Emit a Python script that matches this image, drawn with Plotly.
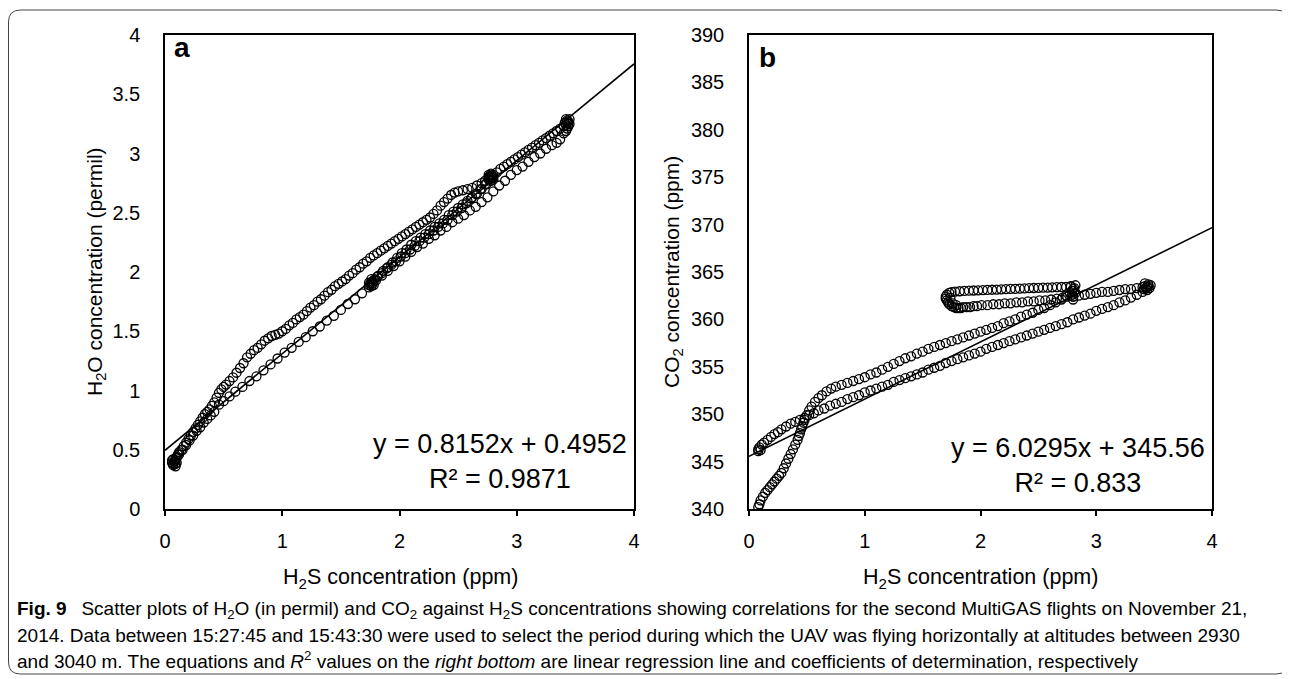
import plotly.graph_objects as go

# The page body adds an 8 px margin, so the figure is drawn 8 px smaller and
# every layout position below is given in screen pixels and shifted by 8.
OFF = 8
W, H = 1290 - OFF, 679 - OFF

# ---------------- Panel a: H2S (ppm) vs H2O (permil), in flight order ----------------
a_start = [(0.07, 0.37), (0.06, 0.39), (0.09, 0.36), (0.08, 0.40), (0.10, 0.39), (0.07, 0.42),
           (0.09, 0.41), (0.09, 0.43), (0.10, 0.44), (0.11, 0.46), (0.12, 0.48), (0.14, 0.50),
           (0.16, 0.53), (0.18, 0.56), (0.20, 0.59), (0.22, 0.62), (0.24, 0.65), (0.26, 0.68),
           (0.28, 0.71), (0.30, 0.74), (0.32, 0.77), (0.34, 0.80), (0.36, 0.82), (0.38, 0.84),
           (0.40, 0.87), (0.42, 0.90), (0.44, 0.94), (0.46, 0.98), (0.48, 1.01), (0.50, 1.03)]
a_upper = [(0.52, 1.05), (0.55, 1.08), (0.58, 1.11), (0.61, 1.15), (0.64, 1.19), (0.67, 1.23),
           (0.70, 1.28), (0.73, 1.31), (0.76, 1.34), (0.79, 1.36), (0.82, 1.39), (0.85, 1.42),
           (0.88, 1.44), (0.91, 1.46), (0.94, 1.47), (0.97, 1.48), (1.00, 1.50), (1.03, 1.52),
           (1.06, 1.55), (1.09, 1.57), (1.12, 1.60), (1.15, 1.62), (1.18, 1.64), (1.21, 1.67),
           (1.24, 1.70), (1.27, 1.72), (1.30, 1.75), (1.33, 1.77), (1.36, 1.80), (1.39, 1.83),
           (1.42, 1.85), (1.45, 1.88), (1.48, 1.90), (1.51, 1.92), (1.54, 1.94), (1.57, 1.97),
           (1.60, 1.99), (1.63, 2.02), (1.66, 2.04), (1.69, 2.07), (1.72, 2.09), (1.75, 2.12),
           (1.78, 2.14), (1.81, 2.16), (1.84, 2.18), (1.87, 2.20), (1.90, 2.22), (1.93, 2.24),
           (1.96, 2.26), (1.99, 2.28), (2.02, 2.30), (2.05, 2.32), (2.08, 2.34), (2.11, 2.36),
           (2.14, 2.38), (2.17, 2.40), (2.20, 2.42), (2.23, 2.44), (2.26, 2.46), (2.29, 2.49),
           (2.32, 2.52), (2.35, 2.56), (2.38, 2.59), (2.41, 2.62), (2.44, 2.65), (2.47, 2.67),
           (2.50, 2.68), (2.54, 2.69), (2.58, 2.70), (2.62, 2.71), (2.66, 2.73), (2.70, 2.75),
           (2.73, 2.77), (2.76, 2.79)]
a_turn1 = [(2.76, 2.80), (2.80, 2.80), (2.78, 2.77), (2.78, 2.83), (2.76, 2.78), (2.80, 2.82),
           (2.76, 2.82), (2.80, 2.78), (2.78, 2.80), (2.79, 2.81), (2.77, 2.81), (2.79, 2.79)]
a_back = [(2.74, 2.74), (2.70, 2.70), (2.66, 2.66), (2.62, 2.63), (2.58, 2.60), (2.54, 2.57),
          (2.50, 2.54), (2.46, 2.51), (2.42, 2.48), (2.38, 2.44), (2.34, 2.41), (2.30, 2.38),
          (2.26, 2.35), (2.22, 2.32), (2.18, 2.29), (2.14, 2.26), (2.10, 2.23), (2.06, 2.19),
          (2.02, 2.16), (1.98, 2.12), (1.94, 2.08), (1.90, 2.04), (1.86, 2.01), (1.82, 1.97),
          (1.79, 1.94)]
a_turn2 = [(1.77, 1.92), (1.74, 1.91), (1.78, 1.89), (1.76, 1.88), (1.76, 1.94), (1.74, 1.89),
           (1.78, 1.93), (1.76, 1.91), (1.75, 1.90), (1.77, 1.90)]
a_forth = [(1.81, 1.96), (1.85, 1.99), (1.89, 2.03), (1.93, 2.06), (1.97, 2.09), (2.01, 2.13),
           (2.05, 2.16), (2.09, 2.19), (2.13, 2.22), (2.17, 2.26), (2.21, 2.29), (2.25, 2.32),
           (2.29, 2.35), (2.33, 2.38), (2.37, 2.41), (2.41, 2.44), (2.45, 2.48), (2.49, 2.51),
           (2.53, 2.54), (2.57, 2.58), (2.61, 2.62), (2.65, 2.66), (2.69, 2.70), (2.73, 2.74)]
a_top = [(2.83, 2.84), (2.86, 2.87), (2.89, 2.89), (2.92, 2.91), (2.95, 2.93), (2.98, 2.95),
         (3.01, 2.97), (3.04, 2.99), (3.07, 3.01), (3.10, 3.03), (3.13, 3.05), (3.16, 3.07),
         (3.19, 3.09), (3.22, 3.11), (3.25, 3.13), (3.28, 3.15), (3.31, 3.17), (3.34, 3.19),
         (3.37, 3.21), (3.40, 3.23)]
a_turn3 = [(3.42, 3.24), (3.44, 3.27), (3.42, 3.29), (3.45, 3.25), (3.43, 3.21), (3.45, 3.29),
           (3.41, 3.26), (3.44, 3.23), (3.43, 3.26), (3.42, 3.19), (3.44, 3.25), (3.43, 3.28)]
a_lower = [(3.40, 3.17), (3.37, 3.12), (3.34, 3.09), (3.30, 3.07), (3.25, 3.04), (3.20, 3.00),
           (3.15, 2.97), (3.10, 2.93), (3.05, 2.89), (3.00, 2.86), (2.95, 2.82), (2.90, 2.77),
           (2.85, 2.73), (2.80, 2.68), (2.75, 2.63), (2.70, 2.59), (2.65, 2.55), (2.60, 2.52),
           (2.55, 2.48), (2.50, 2.45), (2.45, 2.42), (2.40, 2.38), (2.35, 2.35), (2.30, 2.31),
           (2.25, 2.28), (2.20, 2.24), (2.15, 2.21), (2.10, 2.17), (2.05, 2.13), (2.00, 2.09),
           (1.95, 2.05), (1.90, 2.01), (1.85, 1.97), (1.80, 1.93), (1.74, 1.87), (1.68, 1.82),
           (1.62, 1.77), (1.56, 1.73), (1.50, 1.68), (1.44, 1.63), (1.38, 1.59), (1.32, 1.54),
           (1.26, 1.50), (1.20, 1.45), (1.14, 1.41), (1.08, 1.36), (1.02, 1.32), (0.96, 1.27),
           (0.90, 1.22), (0.84, 1.17), (0.78, 1.12), (0.72, 1.08), (0.66, 1.03), (0.60, 0.99),
           (0.55, 0.95), (0.50, 0.91), (0.46, 0.88)]
a_end = [(0.42, 0.82), (0.39, 0.79), (0.36, 0.76), (0.33, 0.73), (0.30, 0.69), (0.27, 0.66),
         (0.24, 0.62), (0.21, 0.58), (0.18, 0.54), (0.15, 0.50), (0.12, 0.46), (0.10, 0.43),
         (0.08, 0.40), (0.07, 0.38), (0.09, 0.38), (0.06, 0.41)]
a_slope, a_intercept, a_r2 = 0.8152, 0.4952, 0.9871

# ---------------- Panel b: H2S (ppm) vs CO2 (ppm), in flight order ----------------
b_start = [(0.08, 340.2), (0.09, 340.5), (0.10, 340.9), (0.12, 341.3), (0.14, 341.7), (0.16, 342.0),
           (0.18, 342.3), (0.20, 342.6), (0.22, 342.9), (0.24, 343.2), (0.26, 343.5), (0.28, 343.8),
           (0.30, 344.3), (0.32, 344.8), (0.34, 345.3), (0.36, 345.8), (0.38, 346.3), (0.40, 346.8),
           (0.42, 347.3), (0.43, 347.7), (0.44, 348.0), (0.45, 348.4), (0.46, 348.7), (0.47, 349.1),
           (0.48, 349.4), (0.50, 349.9), (0.52, 350.4), (0.54, 350.8), (0.57, 351.3), (0.60, 351.7),
           (0.63, 352.0), (0.67, 352.4), (0.71, 352.7), (0.75, 352.9), (0.80, 353.1), (0.85, 353.3)]
b_upper = [(0.90, 353.5), (0.95, 353.7), (1.00, 353.9), (1.05, 354.2), (1.10, 354.4), (1.15, 354.7),
           (1.20, 355.0), (1.25, 355.3), (1.30, 355.6), (1.35, 355.9), (1.40, 356.1), (1.45, 356.4),
           (1.50, 356.6), (1.55, 356.9), (1.60, 357.1), (1.65, 357.3), (1.70, 357.5), (1.75, 357.7),
           (1.80, 357.9), (1.85, 358.1), (1.90, 358.3), (1.95, 358.5), (2.00, 358.7), (2.05, 358.9),
           (2.10, 359.1), (2.15, 359.3), (2.20, 359.6), (2.25, 359.8), (2.30, 360.0), (2.35, 360.3),
           (2.40, 360.5), (2.45, 360.7), (2.50, 361.0), (2.55, 361.2), (2.60, 361.5), (2.65, 361.8),
           (2.70, 362.1), (2.74, 362.5), (2.77, 362.8)]
b_turn1 = [(2.79, 363.0), (2.81, 363.3), (2.82, 362.8), (2.80, 362.4), (2.78, 363.5), (2.82, 363.6),
           (2.80, 362.1), (2.81, 363.0), (2.79, 362.6), (2.80, 363.2)]
b_loop_top = [(2.78, 363.45), (2.74, 363.43), (2.70, 363.42), (2.66, 363.40), (2.62, 363.38),
              (2.58, 363.36), (2.54, 363.35), (2.50, 363.33), (2.46, 363.31), (2.42, 363.29),
              (2.38, 363.27), (2.34, 363.25), (2.30, 363.23), (2.26, 363.21), (2.22, 363.19),
              (2.18, 363.17), (2.14, 363.15), (2.10, 363.13), (2.06, 363.11), (2.02, 363.09),
              (1.98, 363.07), (1.94, 363.05), (1.90, 363.03), (1.86, 363.00), (1.82, 362.97),
              (1.78, 362.93), (1.75, 362.88)]
b_loop_turn = [(1.73, 362.8), (1.71, 362.6), (1.70, 362.4), (1.70, 362.2), (1.71, 362.0), (1.72, 361.8),
               (1.73, 361.6), (1.75, 361.4), (1.77, 361.3), (1.79, 361.2), (1.81, 361.2), (1.83, 361.2),
               (1.85, 361.3), (1.74, 362.3), (1.76, 361.7), (1.79, 361.5)]
b_loop_bottom = [(1.88, 361.3), (1.91, 361.3), (1.94, 361.4), (1.97, 361.4), (2.01, 361.5),
                 (2.06, 361.5), (2.11, 361.6), (2.16, 361.6), (2.21, 361.7), (2.26, 361.7),
                 (2.31, 361.8), (2.36, 361.8), (2.41, 361.9), (2.46, 361.9), (2.51, 362.0),
                 (2.56, 362.0), (2.61, 362.1), (2.66, 362.2), (2.71, 362.3), (2.75, 362.4)]
b_right = [(2.80, 362.4), (2.85, 362.5), (2.90, 362.6), (2.95, 362.7), (3.00, 362.8), (3.05, 362.9),
           (3.10, 362.9), (3.15, 363.0), (3.20, 363.1), (3.25, 363.2), (3.30, 363.2), (3.35, 363.3),
           (3.40, 363.4)]
b_turn2 = [(3.42, 363.5), (3.45, 363.7), (3.46, 363.3), (3.44, 363.1), (3.42, 363.8), (3.47, 363.6),
           (3.44, 363.4), (3.41, 363.2), (3.45, 363.5), (3.43, 363.3)]
b_lower = [(3.40, 362.9), (3.35, 362.6), (3.30, 362.3), (3.25, 362.0), (3.20, 361.8), (3.15, 361.5),
           (3.10, 361.3), (3.05, 361.1), (3.00, 360.9), (2.95, 360.6), (2.90, 360.4), (2.85, 360.2),
           (2.80, 360.0), (2.75, 359.7), (2.70, 359.5), (2.65, 359.3), (2.60, 359.1), (2.55, 358.9),
           (2.50, 358.7), (2.45, 358.5), (2.40, 358.3), (2.35, 358.1), (2.30, 357.9), (2.25, 357.7),
           (2.20, 357.5), (2.15, 357.3), (2.10, 357.1), (2.05, 356.9), (2.00, 356.6), (1.95, 356.4),
           (1.90, 356.2), (1.85, 356.0), (1.80, 355.8), (1.75, 355.6), (1.70, 355.4), (1.65, 355.1),
           (1.60, 354.9), (1.55, 354.7), (1.50, 354.4), (1.45, 354.2), (1.40, 354.0), (1.35, 353.8),
           (1.30, 353.6), (1.25, 353.4), (1.20, 353.1), (1.15, 352.9), (1.10, 352.7), (1.05, 352.5),
           (1.00, 352.3), (0.95, 352.0), (0.90, 351.8), (0.85, 351.6), (0.80, 351.3), (0.75, 351.1),
           (0.70, 350.9), (0.65, 350.6), (0.60, 350.4)]
b_end = [(0.56, 350.1), (0.52, 349.9), (0.48, 349.6), (0.44, 349.4), (0.40, 349.2), (0.36, 349.0),
         (0.32, 348.7), (0.28, 348.4), (0.25, 348.1), (0.22, 347.9), (0.19, 347.6), (0.16, 347.3),
         (0.13, 347.0), (0.11, 346.8), (0.09, 346.5), (0.08, 346.3), (0.08, 346.1), (0.10, 346.2)]
b_slope, b_intercept, b_r2 = 6.0295, 345.56, 0.833

x_range = [0, 4]
a_range, a_dtick = [0, 4], 0.5
b_range, b_dtick = [340, 390], 5

FONT = "Liberation Sans, Arial, sans-serif"

a_pts = a_start + a_upper + a_turn1 + a_back + a_turn2 + a_forth + a_top + a_turn3 + a_lower + a_end
b_pts = b_start + b_upper + b_turn1 + b_loop_top + b_loop_turn + b_loop_bottom + b_right + b_turn2 + b_lower + b_end
a_h2s, a_h2o = [p[0] for p in a_pts], [p[1] for p in a_pts]
b_h2s, b_co2 = [p[0] for p in b_pts], [p[1] for p in b_pts]


def px(x):
    return (x - OFF) / W


def py(y):
    return 1 - (y - OFF) / H


fig = go.Figure()

marker = dict(symbol="circle-open", size=9, color="black", line=dict(width=1.3, color="black"))

fig.add_trace(go.Scatter(x=a_h2s, y=a_h2o, mode="markers", marker=marker, xaxis="x", yaxis="y",
                         showlegend=False, hoverinfo="skip"))
fig.add_trace(go.Scatter(x=x_range, y=[a_slope * v + a_intercept for v in x_range], mode="lines",
                         line=dict(color="black", width=1.6), xaxis="x", yaxis="y", showlegend=False))
fig.add_trace(go.Scatter(x=b_h2s, y=b_co2, mode="markers", marker=marker, xaxis="x2", yaxis="y2",
                         showlegend=False, hoverinfo="skip"))
fig.add_trace(go.Scatter(x=x_range, y=[b_slope * v + b_intercept for v in x_range], mode="lines",
                         line=dict(color="black", width=1.6), xaxis="x2", yaxis="y2", showlegend=False))

ax_common = dict(showline=True, linecolor="black", linewidth=1.5, mirror=True, showgrid=False,
                 zeroline=False, automargin=False, tickfont=dict(family=FONT, size=20, color="black"))

xa = dict(ax_common, range=x_range, dtick=1, ticks="outside", ticklen=5, tickwidth=1.5, tickcolor="black",
          ticklabelstandoff=8)
ya = dict(ax_common, ticks="", ticklabelstandoff=19)

fig.update_layout(
    width=W, height=H, autosize=False, margin=dict(l=0, r=0, t=0, b=0, pad=0, autoexpand=False),
    paper_bgcolor="white", plot_bgcolor="white",
    xaxis=dict(xa, domain=[px(165), px(634)], anchor="y"),
    yaxis=dict(ya, domain=[py(509), py(35)], range=a_range, dtick=a_dtick, anchor="x"),
    xaxis2=dict(xa, domain=[px(749), px(1212)], anchor="y2"),
    yaxis2=dict(ya, domain=[py(509), py(35)], range=b_range, dtick=b_dtick, anchor="x2"),
)

ann = []


def add(text, x, y, size, xanchor="center", angle=0, align="center"):
    ann.append(dict(text=text, x=px(x), y=py(y), xref="paper", yref="paper", showarrow=False,
                    xanchor=xanchor, yanchor="middle", textangle=angle, align=align,
                    font=dict(family=FONT, size=size, color="black")))


add("<b>a</b>", 172, 48, 28, xanchor="left")
add("<b>b</b>", 757, 57, 28, xanchor="left")
add(f"y = {a_slope}x + {a_intercept}<br>R² = {a_r2}", 500, 461, 27)
add(f"y = {b_slope}x + {b_intercept}<br>R² = {b_r2}", 1078, 465, 27)
add("H<sub>2</sub>S concentration (ppm)", 400, 578, 21.5)
add("H<sub>2</sub>S concentration (ppm)", 980, 578, 21.5)
add("H<sub>2</sub>O concentration (permil)", 96, 272, 21, angle=-90)
add("CO<sub>2</sub> concentration (ppm)", 673, 272, 21, angle=-90)

cap1 = ("<b>Fig. 9</b>\u2002 Scatter plots of H<sub>2</sub>O (in permil) and CO<sub>2</sub> against "
        "H<sub>2</sub>S concentrations showing correlations for the second MultiGAS flights on November 21,")
cap2 = ("2014. Data between 15:27:45 and 15:43:30 were used to select the period during which the UAV was "
        "flying horizontally at altitudes between 2930")
cap3 = ("and 3040 m. The equations and <i>R</i><sup>2</sup> values on the <i>right bottom</i> are linear "
        "regression line and coefficients of determination, respectively")
add(cap1, 15, 610, 19, xanchor="left", align="left")
add(cap2, 15, 635, 19, xanchor="left", align="left")
add(cap3, 15, 660, 19, xanchor="left", align="left")

fig.update_layout(annotations=ann)

# rounded outer frame (screen pixels)
L, T, R, B, r = 8.5, 10, 1288, 674, 12
path = (f"M {px(L + r)},{py(T)} L {px(R - r)},{py(T)} Q {px(R)},{py(T)} {px(R)},{py(T + r)} "
        f"L {px(R)},{py(B - r)} Q {px(R)},{py(B)} {px(R - r)},{py(B)} "
        f"L {px(L + r)},{py(B)} Q {px(L)},{py(B)} {px(L)},{py(B - r)} "
        f"L {px(L)},{py(T + r)} Q {px(L)},{py(T)} {px(L + r)},{py(T)} Z")
fig.add_shape(type="path", path=path, xref="paper", yref="paper", line=dict(color="#444", width=1))

fig.write_html("out.html")
